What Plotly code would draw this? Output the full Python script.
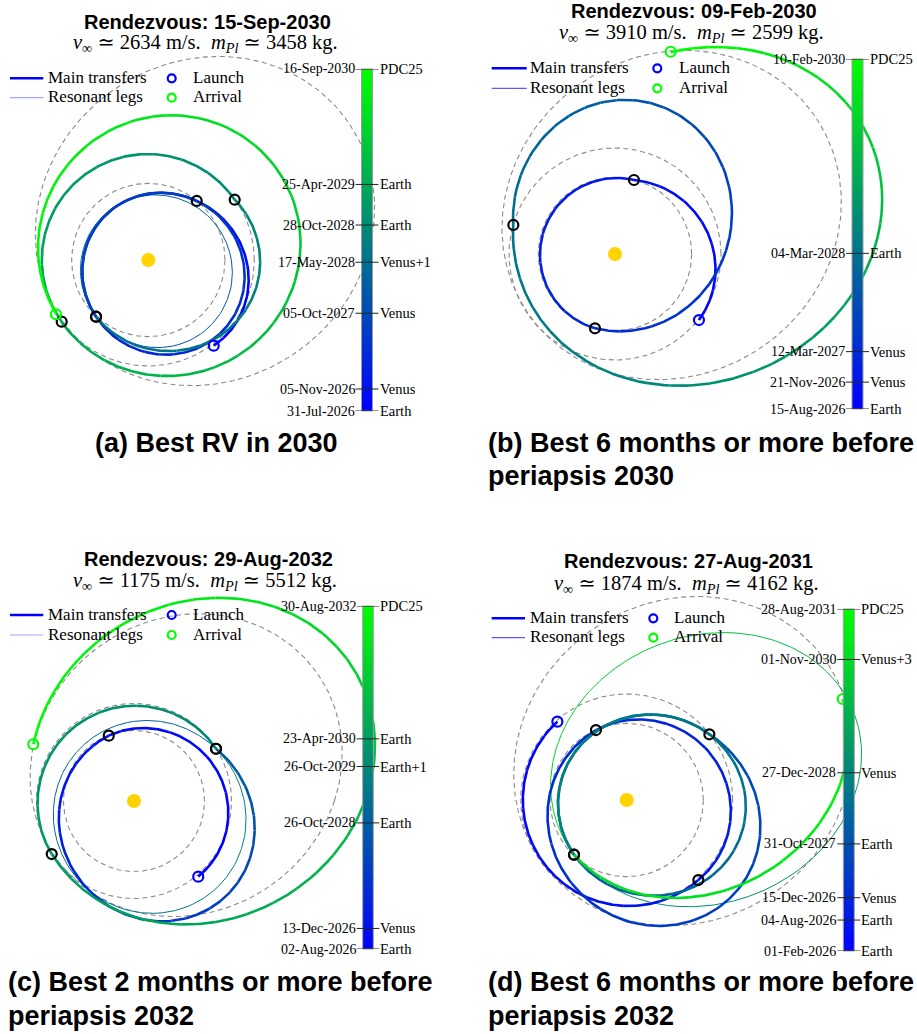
import numpy as np
import pandas as pd
import plotly.graph_objects as go

W, H = 917, 1034

# ---------------- orbits (AU) ----------------
R_VENUS = 0.723
R_EARTH = 1.0
# PDC25 heliocentric orbit: semi-latus rectum (AU), eccentricity, longitude of perihelion (deg)
PDC_P, PDC_E, PDC_W = 1.386, 0.395, 214.5

# ---------------- panel (a) ----------------
A_TITLE = "Rendezvous: 15-Sep-2030"
A_VINF, A_MPL = 2634, 3458
A_DATES = ["31-Jul-2026", "05-Nov-2026", "05-Oct-2027", "17-May-2028",
           "28-Oct-2028", "25-Apr-2029", "16-Sep-2030"]
A_BODIES = ["Earth", "Venus", "Venus", "Venus+1", "Earth", "Earth", "PDC25"]
# heliocentric points (AU) along each leg, first and last ones at the encounters
A_LEGS = [
    [(0.617, -0.808), (0.918, -0.189), (0.865, 0.220), (0.457, 0.557)],
    [(0.457, 0.557), (0.110, 0.635), (-0.628, -0.094), (0.205, -0.890), (0.918, -0.189), (-0.493, -0.535)],
    [(-0.493, -0.535), (0.078, 0.613), (0.795, -0.063), (0.110, -0.818), (-0.639, -0.094), (-0.493, -0.535)],
    [(-0.493, -0.535), (-0.047, -0.818), (0.205, -0.849), (0.927, -0.503), (1.047, 0.0), (0.975, 0.377), (0.815, 0.569)],
    [(0.815, 0.569), (0.361, 0.943), (0.016, 0.984), (-0.456, 0.880), (-0.833, 0.597), (-0.991, 0.189), (-0.959, -0.252), (-0.817, -0.582)],
    [(-0.817, -0.582), (0.173, -1.094), (1.446, 0.189), (0.205, 1.358), (-1.028, 0.189), (-0.871, -0.512)],
]
A_REVS = [0, 1, 1, 0, 0, 0]
A_RESONANT = [False, False, True, False, False, False]
A_CAPTION = ["(a) Best RV in 2030"]

# ---------------- panel (b) ----------------
B_TITLE = "Rendezvous: 09-Feb-2030"
B_VINF, B_MPL = 3910, 2599
B_DATES = ["15-Aug-2026", "21-Nov-2026", "12-Mar-2027", "04-Mar-2028", "10-Feb-2030"]
B_BODIES = ["Earth", "Venus", "Venus", "Earth", "PDC25"]
B_LEGS = [
    [(0.792, -0.623), (0.934, -0.182), (0.865, 0.258), (0.582, 0.541), (0.179, 0.698)],
    [(0.179, 0.698), (0.016, 0.729), (-0.714, 0.007), (-0.550, -0.434), (-0.189, -0.701)],
    [(-0.189, -0.701), (0.078, -0.733), (0.550, -0.559), (0.927, -0.229), (1.120, 0.384), (0.113, 1.462),
     (-0.516, 1.280), (-0.830, 0.887), (-0.959, 0.274)],
    [(-0.959, 0.274), (-0.908, -0.276), (-0.516, -0.875), (0.585, -1.214), (1.686, -0.842), (2.252, -0.371),
     (2.509, 0.541), (2.252, 1.358), (1.057, 1.946), (0.525, 1.908)],
]
B_REVS = [0, 0, 0, 0]
B_RESONANT = [False, False, False, False]
B_CAPTION = ["(b) Best 6 months or more before", "periapsis 2030"]

# ---------------- panel (c) ----------------
C_TITLE = "Rendezvous: 29-Aug-2032"
C_VINF, C_MPL = 1175, 5512
C_DATES = ["02-Aug-2026", "13-Dec-2026", "26-Oct-2028", "26-Oct-2029", "23-Apr-2030", "30-Aug-2032"]
C_BODIES = ["Earth", "Venus", "Earth", "Earth+1", "Earth", "PDC25"]
C_LEGS = [
    [(0.659, -0.776), (0.944, -0.126), (0.746, 0.454), (0.130, 0.769), (-0.259, 0.670)],
    [(-0.259, 0.670), (-0.588, 0.387), (-0.759, -0.126), (-0.554, -0.879), (0.369, -1.187), (1.018, -0.879),
     (1.224, -0.331), (1.156, 0.182), (0.841, 0.536)],
    [(0.841, 0.536), (0.095, 0.813), (-0.834, -0.092), (0.267, -1.135), (1.149, -0.161), (0.841, 0.536)],
    [(0.841, 0.536), (0.541, 0.848), (0.130, 0.961), (-0.485, 0.848), (-0.964, 0.182), (-0.844, -0.544)],
    [(-0.844, -0.544), (-0.383, -1.015), (0.301, -1.238), (0.844, -1.221), (1.870, -0.742), (2.451, 0.079),
     (2.485, 0.967), (1.870, 1.720), (0.810, 2.089), (-0.182, 1.788), (-0.694, 1.207), (-1.033, 0.582)],
]
C_REVS = [0, 0, 1, 0, 0]
C_RESONANT = [False, False, True, False, False]
C_CAPTION = ["(c) Best 2 months or more before", "periapsis 2032"]

# ---------------- panel (d) ----------------
D_TITLE = "Rendezvous: 27-Aug-2031"
D_VINF, D_MPL = 1874, 4162
D_DATES = ["01-Feb-2026", "04-Aug-2026", "15-Dec-2026", "31-Oct-2027", "27-Dec-2028", "01-Nov-2030", "28-Aug-2031"]
D_BODIES = ["Earth", "Earth", "Venus", "Earth", "Venus", "Venus+3", "PDC25"]
D_LEGS = [
    [(-0.654, 0.739), (-0.981, 0.0), (-0.724, -0.660), (0.0, -1.007), (0.676, -0.755)],
    [(0.676, -0.755), (0.943, -0.158), (0.755, 0.535), (0.125, 0.739), (-0.290, 0.660)],
    [(-0.290, 0.660), (-0.745, -0.158), (-0.566, -0.724), (0.283, -1.179), (1.007, -0.912), (1.252, -0.220),
     (1.132, 0.314), (0.780, 0.620)],
    [(0.780, 0.620), (0.220, 0.802), (-0.644, -0.063), (0.283, -0.896), (1.101, 0.094), (-0.497, -0.516)],
    [(-0.497, -0.516), (0.377, -0.972), (2.044, -0.283), (2.192, 0.503), (1.007, 1.629), (-0.535, 0.723),
     (-0.724, 0.0), (-0.497, -0.516)],
    [(-0.497, -0.516), (0.0, -0.849), (0.629, -0.927), (1.258, -0.692), (1.729, -0.314), (2.044, 0.252),
     (2.038, 0.953)],
]
D_REVS = [0, 0, 0, 1, 1, 0]
D_RESONANT = [False, False, False, False, True, False]
D_CAPTION = ["(d) Best 6 months or more before", "periapsis 2032"]

# ---------------- page geometry (pixels) ----------------
# sun: sun centre; k: pixels per AU; box: orbit axes area; bar: colour bar rectangle
GEOM = [
    dict(sun=(148.3, 260.0), k=106.0, box=(0, 36, 455, 430), bar=(361.5, 69, 372.5, 411),
         title=(207.5, 21.5), sub=(205, 44), leg=(10, 43.3, 78.3, 97.7, 46.7, 171.7, 191.7),
         cap=[(216, 443, "center")], res_color="#a4a4ff"),
    dict(sun=(615.0, 254.0), k=106.0, box=(458, 28, 917, 430), bar=(852, 59, 863, 409),
         title=(694, 10.6), sub=(691, 33.3), leg=(491.7, 526.7, 68.3, 88.3, 529.3, 657.3, 678.3),
         cap=[(486, 443, "left"), (486, 476, "left")], res_color="#5a5aff"),
    dict(sun=(134.0, 801.0), k=97.5, box=(0, 566, 455, 965), bar=(362.7, 606, 373.3, 949),
         title=(208, 559), sub=(205, 581), leg=(10, 43.3, 615, 635, 46.7, 171.7, 191.7),
         cap=[(6, 982, "left"), (6, 1016, "left")], res_color="#a4a4ff"),
    dict(sun=(626.7, 800.0), k=106.0, box=(458, 566, 917, 965), bar=(843.3, 609, 854.3, 951),
         title=(688.8, 561.4), sub=(686, 584), leg=(491.7, 525, 618.3, 637.7, 529, 653.3, 673.3),
         cap=[(486, 982, "left"), (486, 1016, "left")], res_color="#5a5aff"),
]

PANELS = [
    (A_TITLE, A_VINF, A_MPL, A_DATES, A_BODIES, A_LEGS, A_REVS, A_RESONANT, A_CAPTION),
    (B_TITLE, B_VINF, B_MPL, B_DATES, B_BODIES, B_LEGS, B_REVS, B_RESONANT, B_CAPTION),
    (C_TITLE, C_VINF, C_MPL, C_DATES, C_BODIES, C_LEGS, C_REVS, C_RESONANT, C_CAPTION),
    (D_TITLE, D_VINF, D_MPL, D_DATES, D_BODIES, D_LEGS, D_REVS, D_RESONANT, D_CAPTION),
]

SERIF = "Liberation Serif, DejaVu Serif, serif"
SANS = "Liberation Sans, Arial, sans-serif"
N_LEVELS = 96


def time_color(f):
    """Blue (launch) to green (arrival) time colouring."""
    f = min(max(float(f), 0.0), 1.0)
    return f"rgb(0,{255 * f:.0f},{255 * (1 - f):.0f})"


COLORSCALE = [[s, time_color(s)] for s in np.linspace(0, 1, 21)]


def px_x(v):
    return v / W


def px_y(v):
    return 1 - v / H


def conic_arc(points, revs):
    """Heliocentric conic (1/r = c0 + c1 cos th + c2 sin th) through the leg points,
    swept counter-clockwise from the first point to the last one."""
    p = np.asarray(points, float)
    r = np.hypot(p[:, 0], p[:, 1])
    th = np.arctan2(p[:, 1], p[:, 0])
    w = np.ones(len(p))
    w[0] = w[-1] = 6.0
    A = np.column_stack([np.ones_like(th), np.cos(th), np.sin(th)]) * w[:, None]
    c = np.linalg.lstsq(A, w / r, rcond=None)[0]
    span = (th[-1] - th[0]) % (2 * np.pi) + 2 * np.pi * revs
    n = int(80 + 420 * span / (2 * np.pi))
    tt = np.linspace(th[0], th[0] + span, n)
    den = c[0] + c[1] * np.cos(tt) + c[2] * np.sin(tt)
    rr = 1.0 / np.clip(den, 1e-3, None)
    # time along the arc follows the swept area (Kepler's second law)
    dA = 0.5 * (rr[1:] ** 2 + rr[:-1] ** 2) * np.diff(tt)
    frac = np.concatenate([[0.0], np.cumsum(dA)])
    frac /= frac[-1]
    return rr * np.cos(tt), rr * np.sin(tt), frac


fig = go.Figure()
layout = dict(width=W, height=H, margin=dict(l=0, r=0, t=0, b=0),
              paper_bgcolor="white", plot_bgcolor="rgba(0,0,0,0)", showlegend=False)
shapes, annotations = [], []

th_full = np.linspace(0, 2 * np.pi, 361)

for i, (panel, geo) in enumerate(zip(PANELS, GEOM)):
    title, vinf, mpl, dates, bodies, legs, revs, resonant, caption = panel
    ax = i + 1
    xa, ya = ("x", "y") if ax == 1 else (f"x{ax}", f"y{ax}")
    sx, sy = geo["sun"]
    k = geo["k"]
    bx0, by0, bx1, by1 = geo["box"]
    layout["xaxis" if ax == 1 else f"xaxis{ax}"] = dict(
        domain=[px_x(bx0), px_x(bx1)], range=[(bx0 - sx) / k, (bx1 - sx) / k],
        visible=False, fixedrange=True, anchor=ya)
    layout["yaxis" if ax == 1 else f"yaxis{ax}"] = dict(
        domain=[px_y(by1), px_y(by0)], range=[(sy - by1) / k, (sy - by0) / k],
        visible=False, fixedrange=True, anchor=xa)

    # planetary orbits and PDC25 orbit
    for rad in (R_VENUS, R_EARTH):
        fig.add_trace(go.Scatter(x=rad * np.cos(th_full), y=rad * np.sin(th_full), mode="lines",
                                 line=dict(color="#8a8a8a", width=1.1, dash="5px,3.5px"),
                                 hoverinfo="skip", xaxis=xa, yaxis=ya))
    r_ast = PDC_P / (1 + PDC_E * np.cos(th_full - np.radians(PDC_W)))
    fig.add_trace(go.Scatter(x=r_ast * np.cos(th_full), y=r_ast * np.sin(th_full), mode="lines",
                             line=dict(color="#8a8a8a", width=1.1, dash="5px,3.5px"),
                             hoverinfo="skip", xaxis=xa, yaxis=ya))
    # Sun
    fig.add_trace(go.Scatter(x=[0], y=[0], mode="markers",
                             marker=dict(size=14, color="#FFD200", line=dict(width=0)),
                             hoverinfo="skip", xaxis=xa, yaxis=ya))

    # legs coloured by date
    t = pd.to_datetime(dates, format="%d-%b-%Y")
    days = np.array([(d - t[0]).days for d in t], float)
    total = days[-1]
    buckets = {True: {}, False: {}}
    for j, (pts, nrev, res) in enumerate(zip(legs, revs, resonant)):
        x, y, frac = conic_arc(pts, nrev)
        f = (days[j] + frac * (days[j + 1] - days[j])) / total
        fm = 0.5 * (f[1:] + f[:-1])
        lv = np.round(fm * N_LEVELS).astype(int)
        start = 0
        for m in range(1, len(lv) + 1):
            if m == len(lv) or lv[m] != lv[start]:
                bx, by = buckets[res].setdefault(int(lv[start]), ([], []))
                bx.extend(list(x[start:m + 1]) + [None])
                by.extend(list(y[start:m + 1]) + [None])
                start = m
    for res, width in ((True, 1.0), (False, 2.6)):
        for level in sorted(buckets[res]):
            bx, by = buckets[res][level]
            fig.add_trace(go.Scatter(x=bx, y=by, mode="lines",
                                     line=dict(color=time_color(level / N_LEVELS), width=width),
                                     hoverinfo="skip", xaxis=xa, yaxis=ya))

    # encounters
    enc = [leg[0] for leg in legs] + [legs[-1][-1]]
    fx = [p[0] for p in enc[1:-1]]
    fy = [p[1] for p in enc[1:-1]]
    fig.add_trace(go.Scatter(x=fx, y=fy, mode="markers",
                             marker=dict(symbol="circle-open", size=10, color="black",
                                         line=dict(width=2.2, color="black")),
                             hoverinfo="skip", xaxis=xa, yaxis=ya))
    for p, col in ((enc[0], time_color(0)), (enc[-1], time_color(1))):
        fig.add_trace(go.Scatter(x=[p[0]], y=[p[1]], mode="markers",
                                 marker=dict(symbol="circle-open", size=10, color=col,
                                             line=dict(width=2.2, color=col)),
                                 hoverinfo="skip", xaxis=xa, yaxis=ya))

    # colour bar
    cb = ax + 4
    cx0, cy0, cx1, cy1 = geo["bar"]
    layout[f"xaxis{cb}"] = dict(domain=[px_x(cx0), px_x(cx1)], range=[-0.5, 0.5], visible=False,
                                fixedrange=True, anchor=f"y{cb}")
    layout[f"yaxis{cb}"] = dict(domain=[px_y(cy1), px_y(cy0)], range=[0, total], visible=False,
                                fixedrange=True, anchor=f"x{cb}")
    yy = np.linspace(0, total, 300)
    fig.add_trace(go.Heatmap(z=[[v] for v in yy], x=[0], y=yy, colorscale=COLORSCALE,
                             zmin=0, zmax=total, showscale=False, hoverinfo="skip",
                             xaxis=f"x{cb}", yaxis=f"y{cb}"))
    shapes.append(dict(type="rect", xref="paper", yref="paper", x0=px_x(cx0), x1=px_x(cx1),
                       y0=px_y(cy1), y1=px_y(cy0), line=dict(color="#9a9a9a", width=1), layer="above"))
    for dlabel, body, dv in zip(dates, bodies, days):
        shapes.append(dict(type="line", xref="paper", yref=f"y{cb}", x0=px_x(cx0 - 6), x1=px_x(cx1 + 6),
                           y0=dv, y1=dv, line=dict(color="#222222", width=1), layer="above"))
        annotations.append(dict(x=px_x(cx0 - 6), y=dv, xref="paper", yref=f"y{cb}", text=dlabel,
                                xanchor="right", yanchor="middle", showarrow=False, borderpad=0,
                                font=dict(family=SERIF, size=14, color="black")))
        annotations.append(dict(x=px_x(cx1 + 6), y=dv, xref="paper", yref=f"y{cb}", text=body,
                                xanchor="left", yanchor="middle", showarrow=False, borderpad=0,
                                font=dict(family=SERIF, size=14.5, color="black")))

    # titles
    tx, ty = geo["title"]
    annotations.append(dict(x=px_x(tx), y=px_y(ty), xref="paper", yref="paper", text=f"<b>{title}</b>",
                            xanchor="center", yanchor="middle", showarrow=False,
                            font=dict(family=SANS, size=20, color="black")))
    ux, uy = geo["sub"]
    annotations.append(dict(x=px_x(ux), y=px_y(uy), xref="paper", yref="paper",
                            text=f"<i>v</i><sub>∞</sub> ≃ {vinf} m/s.  <i>m</i><sub><i>Pl</i></sub> ≃ {mpl} kg.",
                            xanchor="center", yanchor="middle", showarrow=False,
                            font=dict(family=SERIF, size=20.5, color="black")))

    # legend
    lx0, lx1, ly1, ly2, ltx, mx, mtx = geo["leg"]
    shapes.append(dict(type="line", xref="paper", yref="paper", x0=px_x(lx0), x1=px_x(lx1),
                       y0=px_y(ly1), y1=px_y(ly1), line=dict(color="#0000ff", width=2.6), layer="above"))
    shapes.append(dict(type="line", xref="paper", yref="paper", x0=px_x(lx0), x1=px_x(lx1),
                       y0=px_y(ly2), y1=px_y(ly2), line=dict(color=geo["res_color"], width=1.2), layer="above"))
    for yv, col in ((ly1, time_color(0)), (ly2, time_color(1))):
        shapes.append(dict(type="circle", xref="paper", yref="paper", xsizemode="pixel", ysizemode="pixel",
                           xanchor=px_x(mx), yanchor=px_y(yv), x0=-4, x1=4, y0=-4, y1=4,
                           line=dict(color=col, width=2.2), layer="above"))
    for txt, xv, yv in (("Main transfers", ltx, ly1), ("Resonant legs", ltx, ly2),
                        ("Launch", mtx, ly1), ("Arrival", mtx, ly2)):
        annotations.append(dict(x=px_x(xv), y=px_y(yv - 1), xref="paper", yref="paper", text=txt,
                                xanchor="left", yanchor="middle", showarrow=False, borderpad=0,
                                font=dict(family=SERIF, size=17, color="black")))

    # caption
    for line, (cx, cy, anchor) in zip(caption, geo["cap"]):
        annotations.append(dict(x=px_x(cx), y=px_y(cy), xref="paper", yref="paper", text=f"<b>{line}</b>",
                                xanchor=anchor, yanchor="middle", showarrow=False,
                                font=dict(family=SANS, size=27, color="black")))

for tr in fig.data:
    tr.showlegend = False
layout["shapes"] = shapes
layout["annotations"] = annotations
fig.update_layout(**layout)
fig.write_html("out.html")
